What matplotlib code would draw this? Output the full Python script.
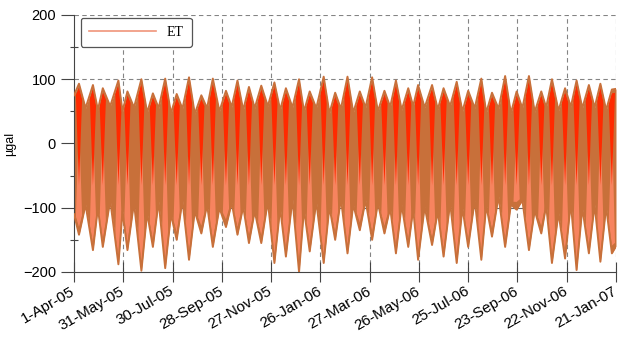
"""Earth tide (ET) gravity signal, Apr 2005 - Jan 2007."""
import matplotlib
matplotlib.use("Agg")
import matplotlib.pyplot as plt
from matplotlib.lines import Line2D
import numpy as np

# days since 1-Apr-05 of each fortnightly lobe
lobe_day = [6, 23, 35, 54, 65, 82, 96, 111, 125, 140, 155, 169, 185, 199, 213,
            228, 244, 258, 274, 287, 304, 318, 333, 348, 363, 378, 392, 407, 419, 436,
            450, 466, 480, 496, 509, 525, 539, 554, 569, 582, 598, 612, 627, 641, 655]
tip_hi = [93, 91, 86, 98, 81, 100, 78, 101, 77, 103, 75, 101, 82, 98, 88,
          90, 95, 86, 100, 81, 104, 79, 104, 81, 103, 82, 98, 86, 91, 91,
          86, 96, 82, 101, 79, 105, 81, 105, 81, 100, 86, 98, 91, 93, 84]
tip_lo = [-142, -166, -161, -188, -166, -198, -161, -194, -150, -181, -140, -161, -130, -142, -155,
          -155, -186, -176, -200, -168, -186, -150, -171, -135, -150, -140, -171, -161, -181, -158,
          -176, -186, -161, -181, -145, -161, -103, -166, -140, -186, -179, -197, -171, -184, -171]

# envelope between lobes (plus both ends of the record)
gap_day = [0, 14, 29, 44, 59, 73, 89, 103, 118, 132, 147, 162, 177, 192, 206,
           220, 236, 251, 266, 280, 295, 311, 325, 340, 355, 370, 385, 399, 413, 427,
           443, 458, 473, 488, 502, 517, 532, 546, 561, 575, 590, 605, 619, 634, 648, 660]
gap_hi = [75, 55, 52, 58, 50, 56, 48, 55, 47, 54, 46, 55, 50, 57, 52,
          55, 58, 52, 56, 50, 55, 47, 54, 48, 56, 50, 57, 52, 58, 56,
          53, 58, 50, 55, 48, 54, 47, 55, 49, 56, 51, 57, 55, 56, 52, 85]
gap_lo = [-110, -95, -100, -88, -105, -92, -108, -90, -110, -88, -105, -95, -100, -92, -98,
          -105, -90, -100, -86, -102, -90, -98, -85, -95, -88, -92, -100, -95, -102, -98,
          -105, -92, -100, -88, -96, -82, -95, -88, -104, -96, -108, -92, -100, -95, -98, -160]

tick_day = [0, 60, 120, 180, 240, 300, 360, 420, 480, 540, 600, 660]
tick_lab = ["1-Apr-05", "31-May-05", "30-Jul-05", "28-Sep-05", "27-Nov-05", "26-Jan-06",
            "27-Mar-06", "26-May-06", "25-Jul-06", "23-Sep-06", "22-Nov-06", "21-Jan-07"]

RED = "#ff2a00"
BROWN = "#c8703a"
SALMON = "#f7845f"


def main():
    plt.rcParams["font.family"] = ["Liberation Sans", "DejaVu Sans"]
    fig = plt.figure(figsize=(6.44, 3.42), dpi=100)
    ax = fig.add_axes([0.115, 0.2047, 0.8415, 0.7515])

    d = np.array(lobe_day + gap_day, dtype=float)
    order = np.argsort(d)
    d = d[order]
    hi = np.array(tip_hi + gap_hi, dtype=float)[order]
    lo = np.array(tip_lo + gap_lo, dtype=float)[order]

    # grid behind the signal
    for t in tick_day[1:]:
        ax.axvline(t, color="#666666", lw=0.8, ls=(0, (4, 3)), alpha=0.8, zorder=1)
    for v in [100, 200]:
        ax.axhline(v, color="#666666", lw=0.8, ls=(0, (4, 3)), alpha=0.8, zorder=1)
    ax.axhline(-100, color="#666666", lw=0.8, zorder=1)

    ax.fill_between(d, lo, hi, color=BROWN, lw=0, zorder=2)
    # narrow salmon spindles in lower half and red ones in upper half of each lobe
    w = 3.8
    for t, T, B in zip(lobe_day, tip_hi, tip_lo):
        xl, xr = t - w, t + w
        ax.fill([xl, t, xr, t], [np.interp(xl, d, lo) + 8, B + 12, np.interp(xr, d, lo) + 8, 35],
                color=SALMON, lw=0, zorder=3)
        ax.fill([xl, t, xr, t], [np.interp(xl, d, hi) - 6, T - 6, np.interp(xr, d, hi) - 6, -65],
                color=RED, lw=0, zorder=4)
    ax.plot(d, hi, color=BROWN, lw=1.4, zorder=5)
    ax.plot(d, lo, color=BROWN, lw=1.4, zorder=5)

    ax.set_xlim(0, 660)
    ax.set_ylim(-200, 200)
    ax.set_xticks(tick_day)
    ax.set_xticklabels(tick_lab, rotation=30, ha="right", va="center",
                       rotation_mode="anchor", fontsize=11)
    ax.set_yticks([-200, -100, 0, 100, 200])
    ax.set_yticks([-150, -50, 50, 150], minor=True)
    ax.tick_params(axis="x", direction="inout", length=14, width=0.8, color="#444444", pad=6)
    ax.tick_params(axis="y", direction="out", length=9.5, width=0.8, color="#444444",
                   labelsize=10.5, pad=3.5)
    ax.tick_params(axis="y", which="minor", direction="inout", length=6, width=0.8, color="#444444")

    for s in ["top", "right"]:
        ax.spines[s].set_visible(False)
    for s in ["left", "bottom"]:
        ax.spines[s].set_color("#444444")
        ax.spines[s].set_linewidth(0.8)

    ax.set_ylabel("\u00b5gal", fontsize=9, labelpad=5)

    h = Line2D([], [], color="#f0957a", lw=1.2)
    leg = ax.legend([h], ["ET"], loc="upper left", bbox_to_anchor=(0.012, 0.99),
                    borderaxespad=0, handlelength=4.8,
                    prop={"family": "Liberation Serif", "size": 10},
                    fancybox=True, framealpha=1, edgecolor="#555555", borderpad=0.6)
    leg.get_frame().set_linewidth(0.9)
    leg.set_zorder(10)

    fig.savefig("out.png", dpi=100)


if __name__ == "__main__":
    main()
